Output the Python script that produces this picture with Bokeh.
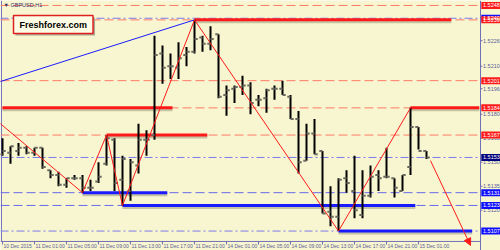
from bokeh.plotting import figure
from bokeh.models import ColumnDataSource, Range1d, Label, Arrow, NormalHead
from bokeh.embed import file_html
from bokeh.resources import INLINE
from bokeh.core.properties import value

# ---------------- data ----------------
bar_index = list(range(54))
opens = [1.5155, 1.5156, 1.5157, 1.5159, 1.5156, 1.5159, 1.5145, 1.5142, 1.5136, 1.5140,
         1.5140, 1.5134, 1.5138, 1.5149, 1.5164, 1.5139, 1.5132, 1.5148, 1.5164, 1.5167,
         1.5218, 1.5210, 1.5209, 1.5217, 1.5219, 1.5228, 1.5224, 1.5230, 1.5192, 1.5196,
         1.5197, 1.5198, 1.5189, 1.5190, 1.5196, 1.5196, 1.5191, 1.5177, 1.5151, 1.5168,
         1.5157, 1.5119, 1.5116, 1.5140, 1.5132, 1.5117, 1.5129, 1.5142, 1.5141, 1.5140,
         1.5132, 1.5147, 1.5172, 1.5157]
highs = [1.5165, 1.5160, 1.5162, 1.5160, 1.5159, 1.5159, 1.5145, 1.5144, 1.5140, 1.5142,
         1.5142, 1.5139, 1.5150, 1.5167, 1.5165, 1.5154, 1.5152, 1.5174, 1.5170, 1.5229,
         1.5223, 1.5218, 1.5225, 1.5222, 1.5239, 1.5229, 1.5235, 1.5230, 1.5198, 1.5198,
         1.5204, 1.5200, 1.5192, 1.5196, 1.5198, 1.5201, 1.5192, 1.5182, 1.5174, 1.5177,
         1.5157, 1.5135, 1.5140, 1.5145, 1.5154, 1.5145, 1.5148, 1.5145, 1.5159, 1.5140,
         1.5142, 1.5184, 1.5172, 1.5157]
lows = [1.5154, 1.5149, 1.5154, 1.5155, 1.5154, 1.5146, 1.5140, 1.5135, 1.5134, 1.5139,
        1.5131, 1.5132, 1.5137, 1.5148, 1.5132, 1.5123, 1.5126, 1.5143, 1.5154, 1.5164,
        1.5199, 1.5202, 1.5202, 1.5210, 1.5218, 1.5219, 1.5220, 1.5190, 1.5179, 1.5187,
        1.5192, 1.5180, 1.5185, 1.5181, 1.5189, 1.5192, 1.5177, 1.5143, 1.5151, 1.5155,
        1.5118, 1.5110, 1.5107, 1.5131, 1.5115, 1.5115, 1.5128, 1.5132, 1.5140, 1.5128,
        1.5132, 1.5142, 1.5158, 1.5152]
closes = [1.5157, 1.5160, 1.5159, 1.5156, 1.5159, 1.5147, 1.5142, 1.5136, 1.5140, 1.5140,
          1.5134, 1.5134, 1.5141, 1.5165, 1.5137, 1.5152, 1.5150, 1.5164, 1.5164, 1.5217,
          1.5209, 1.5210, 1.5215, 1.5219, 1.5227, 1.5224, 1.5227, 1.5191, 1.5195, 1.5197,
          1.5198, 1.5187, 1.5189, 1.5195, 1.5196, 1.5192, 1.5177, 1.5150, 1.5168, 1.5155,
          1.5118, 1.5116, 1.5139, 1.5137, 1.5120, 1.5129, 1.5141, 1.5140, 1.5141, 1.5134,
          1.5142, 1.5172, 1.5157, 1.5153]

time_ticks = [0, 4, 8, 12, 16, 20, 24, 28, 32, 36, 40, 44, 48, 52]
time_labels = ["10 Dec 2015", "11 Dec 01:00", "11 Dec 05:00", "11 Dec 09:00",
               "11 Dec 13:00", "11 Dec 17:00", "11 Dec 21:00", "14 Dec 01:00",
               "14 Dec 05:00", "14 Dec 09:00", "14 Dec 13:00", "14 Dec 17:00",
               "14 Dec 21:00", "15 Dec 01:00"]
price_ticks = [1.5226, 1.5210, 1.5196, 1.5180, 1.5165, 1.5150, 1.5135, 1.5120]

# zigzag (red) and trend line (blue)
zigzag_x = [-5, 10, 13, 15, 24, 42, 51]
zigzag_y = [1.5194, 1.5131, 1.5167, 1.5123, 1.5239, 1.5107, 1.5184]
trend_x = [-10, 24]
trend_y = [1.5185, 1.5239]

# full-width level lines
red_levels = [1.5248, 1.5239, 1.5201, 1.5184, 1.5167]
blue_dashed_levels = [1.5131, 1.5123]
blue_dashdot_levels = [1.5240, 1.5153, 1.5107]

# thick level segments
seg_start = [0, 13, 24, 51, 10, 15, 42]
seg_end = [21.25, 25.6, 56.1, 59.6, 20.6, 51.6, 58.7]
seg_price = [1.5184, 1.5167, 1.5239, 1.5184, 1.5131, 1.5123, 1.5107]
seg_color = ["#ff1a1a"] * 4 + ["#1a1aff"] * 3

# price boxes at right axis
box_price = [1.5240, 1.5248, 1.5239, 1.5201, 1.5184, 1.5167, 1.5131, 1.5123, 1.5107, 1.5153]
box_color = ["#1010ff", "#ff1a1a", "#ff1a1a", "#ff1a1a", "#ff1a1a", "#ff1a1a",
             "#1010ff", "#1010ff", "#1010ff", "#00007a"]

arrow_x = [53.5, 58.5]
arrow_y = [1.5151, 1.5098]

# ---------------- layout constants (style) ----------------
BG = "#f8f6d0"
AX = "#7070b8"
LBL = "#5a5a9a"
X0 = -0.25                 # left edge (bar units, 8 px / bar)
XW = 500 / 8.0
Y_TOP = 1.52511            # top edge (price, 16000 px / unit)
PX = 1 / 16000.0           # one vertical pixel in price units
YH = 250 * PX
X_AX = 59.75               # right price-axis position
Y_AX = 1.51005             # bottom time-axis position
FONT = value("Liberation Sans")

p = figure(width=500, height=250, x_range=Range1d(X0, X0 + XW), y_range=Range1d(Y_TOP - YH, Y_TOP),
           output_backend="svg", toolbar_location=None,
           min_border_left=0, min_border_right=0, min_border_top=0, min_border_bottom=0,
           background_fill_color=BG, border_fill_color=BG, outline_line_color=None)
p.grid.visible = False
p.axis.visible = False

# axes drawn as glyphs
p.segment(x0=[X0 + 0.12, X0], y0=[Y_AX, Y_AX], x1=[X0 + 0.12, X_AX], y1=[Y_TOP, Y_AX],
          line_color=AX, line_width=1)
p.segment(x0=[X_AX], y0=[Y_TOP], x1=[X_AX], y1=[Y_TOP - YH], line_color=AX, line_width=1)
p.segment(x0=time_ticks, y0=[Y_AX] * len(time_ticks), x1=time_ticks,
          y1=[Y_AX - 3 * PX] * len(time_ticks), line_color=AX, line_width=1)
p.text(x=time_ticks, y=[Y_AX] * len(time_ticks), text=time_labels, x_offset=1, y_offset=2,
       text_font=FONT, text_font_size="5px", text_color=LBL,
       text_baseline="top", text_align="left")
p.segment(x0=[X_AX] * len(price_ticks), y0=price_ticks, x1=[X_AX + 0.25] * len(price_ticks),
          y1=price_ticks, line_color=AX, line_width=1)
p.text(x=[X_AX] * len(price_ticks), y=price_ticks, text=[f"{t:.4f}" for t in price_ticks],
       x_offset=2.5, text_font=FONT, text_font_size="5.5px", text_color=LBL,
       text_baseline="middle", text_align="left")

# full-width lines (up to the price axis)
def hlines(levels, color, dash):
    n = len(levels)
    p.segment(x0=[X0] * n, y0=levels, x1=[X_AX] * n, y1=levels, line_color=color,
              line_width=1, line_dash=dash)

hlines(red_levels, "#ff7a66", "9 4")
hlines(blue_dashed_levels, "#6a6aee", "9 4")
hlines(blue_dashdot_levels, "#7a7aee", "8 3 2 3")

# thick segments with shadow
seg_src = ColumnDataSource(dict(x0=seg_start, x1=seg_end, y=seg_price,
                                ys=[v - 2 * PX for v in seg_price], c=seg_color))
p.segment(x0="x0", y0="ys", x1="x1", y1="ys", source=seg_src, line_color="#9a9a80",
          line_width=3, line_alpha=0.55)
p.segment(x0="x0", y0="y", x1="x1", y1="y", source=seg_src, line_color="c", line_width=3)

# bars
src = ColumnDataSource(dict(x=bar_index, o=opens, h=highs, l=lows, c=closes,
                            xl=[i - 0.4 for i in bar_index], xr=[i + 0.4 for i in bar_index]))
p.segment(x0="x", y0="l", x1="x", y1="h", source=src, line_color="black", line_width=2)
p.segment(x0="xl", y0="o", x1="x", y1="o", source=src, line_color="#6a6a60", line_width=2)
p.segment(x0="x", y0="c", x1="xr", y1="c", source=src, line_color="#6a6a60", line_width=2)

# trend lines
p.line(trend_x, trend_y, line_color="#1a1aff", line_width=1)
p.line(zigzag_x, zigzag_y, line_color="#ff1a1a", line_width=1)

p.add_layout(Arrow(end=NormalHead(size=7, fill_color="#ff1a1a", line_color="#ff1a1a"),
                   x_start=arrow_x[0], y_start=arrow_y[0], x_end=arrow_x[1], y_end=arrow_y[1],
                   line_color="#ff1a1a", line_width=1))

# price boxes on the price axis
box_src = ColumnDataSource(dict(y=box_price, top=[v + 3.5 * PX for v in box_price],
                                bottom=[v - 3.5 * PX for v in box_price], c=box_color,
                                t=[f"{v:.4f}" for v in box_price]))
p.quad(left=X_AX + 0.1, right=X0 + XW, top="top", bottom="bottom", source=box_src,
       fill_color="c", line_color=None)
p.text(x=X_AX, y="y", text="t", source=box_src, x_offset=2.5, text_font=FONT,
       text_font_size="5.5px", text_color="white", text_baseline="middle", text_align="left")

# title text & logo box
p.add_layout(Label(x=X0, y=Y_TOP, x_offset=3, y_offset=-1, text="\u25bc GBPUSD,H1",
                   text_font="Liberation Sans", text_font_size="5.5px",
                   text_color="#33336a", text_baseline="top", text_align="left"))
p.add_layout(Label(x=X0, y=Y_TOP, x_offset=15, y_offset=-17, text="Freshforex.com",
                   text_font="Liberation Sans", text_font_size="9px", text_font_style="bold",
                   text_color="#a8a890", text_baseline="top", text_align="left",
                   background_fill_color="#a8a890", padding=[6, 4]))
p.add_layout(Label(x=X0, y=Y_TOP, x_offset=13, y_offset=-15, text="Freshforex.com",
                   text_font="Liberation Sans", text_font_size="9px", text_font_style="bold",
                   text_color="black", text_baseline="top", text_align="left",
                   background_fill_color="#fdfde6", border_line_color="#e02020",
                   border_line_width=1.5, padding=[6, 4]))

open("out.html", "w").write(file_html(p, INLINE))
